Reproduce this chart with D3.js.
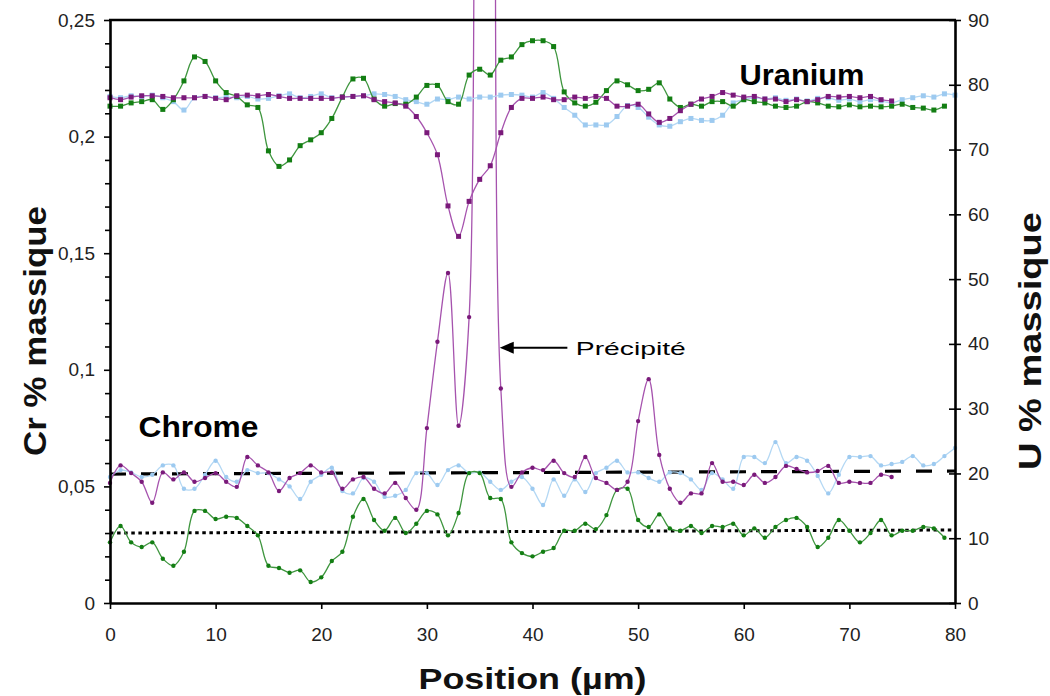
<!DOCTYPE html>
<html><head><meta charset="utf-8">
<script src="https://cdn.jsdelivr.net/npm/d3@7"></script>
<style>
html,body{margin:0;padding:0;background:#fff;}
svg{display:block;font-family:"Liberation Sans",Arial,sans-serif;}
</style></head>
<body>
<svg id="chart" width="1050" height="696"></svg>
<script>
// ---------- DATA ----------
const posAll = [0,1,2,3,4,5,6,7,8,9,10,11,12,13,14,15,16,17,18,19,20,21,22,23,24,25,26,27,28,29,30,31,32,33,34,35,36,37,38,39,40,41,42,43,44,45,46,47,48,49,50,51,52,53,54,55,56,57,58,59,60,61,62,63,64,65,66,67,68,69,70,71,72,73,74,75,76,77,78,79,80];

// Chrome (left axis, Cr % massique)
const crGreen = [0.026,0.033,0.026,0.024,0.026,0.019,0.016,0.022,0.0395,0.0395,
0.036,0.037,0.0365,0.033,0.029,0.016,0.015,0.013,0.014,0.009,
0.011,0.018,0.022,0.037,0.0446,0.0356,0.031,0.0365,0.030,0.034,
0.0395,0.038,0.029,0.0386,0.0557,0.0557,0.045,0.0446,0.026,0.0214,
0.020,0.022,0.0236,0.031,0.031,0.034,0.0317,0.0377,0.0485,0.049,
0.0356,0.0326,0.038,0.032,0.031,0.033,0.030,0.033,0.0326,0.034,
0.029,0.032,0.028,0.0326,0.0356,0.0365,0.0326,0.024,0.028,0.0356,
0.031,0.026,0.030,0.0356,0.029,0.031,0.031,0.0326,0.032,0.028];

const crPurple = [0.0515,0.059,0.0557,0.052,0.043,0.056,0.053,0.056,0.052,0.0536,
0.0557,0.052,0.0498,0.0626,0.059,0.056,0.048,0.0536,0.0557,0.059,
0.056,0.056,0.049,0.053,0.054,0.049,0.047,0.0515,0.045,0.040,
0.075,0.112,0.1415,0.076,0.1226,0.6,0.55,0.092,0.0498,0.056,
0.058,0.057,0.061,0.0557,0.054,0.0626,0.0536,0.0515,0.0485,0.052,
0.078,0.096,0.0635,0.049,0.043,0.047,0.047,0.060,0.052,0.052,
0.0506,0.055,0.0515,0.054,0.0588,0.0575,0.056,0.0566,0.0588,0.0515,
0.052,0.0515,0.0515,0.055,0.054];

const crBlue = [0.054,0.057,0.056,0.054,0.055,0.059,0.059,0.049,0.049,0.055,
0.061,0.054,0.052,0.057,0.0557,0.0557,0.053,0.050,0.0446,0.052,
0.055,0.058,0.048,0.047,0.0536,0.052,0.0455,0.046,0.0485,0.0557,
0.0557,0.0506,0.057,0.059,0.0557,0.056,0.052,0.0485,0.052,0.054,
0.049,0.042,0.053,0.046,0.053,0.0476,0.0557,0.058,0.061,0.056,
0.056,0.0536,0.052,0.056,0.0557,0.053,0.0485,0.0557,0.053,0.049,
0.0626,0.0626,0.060,0.069,0.060,0.0626,0.061,0.0545,0.047,0.055,
0.0626,0.0626,0.063,0.059,0.0596,0.0605,0.063,0.059,0.0596,0.063,
0.0665];

// Uranium (right axis, U % massique)
const uPurple = [78.0,77.7,78.1,78.3,78.3,78.2,78.0,78.0,78.0,78.2,
77.9,77.7,78.3,78.4,78.3,78.5,78.2,77.9,77.9,77.9,
77.9,77.9,78.1,78.2,78.3,77.7,77.4,77.2,76.7,75.1,
72.6,69.2,61.3,56.6,62.0,65.4,67.5,72.6,76.5,77.9,
77.9,78.1,77.7,77.7,78.1,77.9,78.2,77.9,76.7,76.7,
77.0,75.5,74.2,74.8,76.0,77.0,77.8,78.2,78.8,78.4,
78.1,78.2,77.8,77.8,77.4,77.7,77.4,77.7,78.2,78.1,
78.2,78.0,78.2,77.7,77.5];

const uGreen = [76.7,76.7,77.2,77.4,77.7,76.2,77.7,80.6,84.3,83.6,
80.6,78.8,78.2,76.9,76.5,69.8,67.4,68.4,70.6,71.5,
72.6,74.8,78.1,80.9,81.0,77.8,76.7,77.1,77.0,78.1,
79.9,79.9,77.4,77.0,81.5,82.4,81.5,83.8,84.3,86.2,
86.8,86.8,85.9,78.9,77.2,76.7,77.3,79.1,80.6,80.0,
79.1,79.3,80.3,77.8,76.5,77.0,76.7,77.4,77.4,76.7,
77.7,77.4,77.2,76.7,76.5,76.7,77.4,77.2,76.7,76.6,
76.9,76.6,76.7,76.6,76.7,77.0,76.5,76.4,76.1,76.7];

const uBlue = [78.2,78.0,78.3,78.2,78.4,78.0,77.4,76.1,78.0,78.2,
78.0,78.1,78.0,78.2,77.8,77.9,78.3,78.6,78.0,78.2,
78.6,78.0,78.1,78.2,78.3,78.6,78.5,78.2,77.7,77.4,
77.0,77.8,77.7,78.1,77.8,78.1,78.1,78.4,78.5,78.4,
78.1,78.8,77.9,76.5,75.3,73.8,73.8,73.8,75.1,76.8,
76.5,75.0,73.8,73.6,74.3,74.8,74.5,74.5,75.3,77.2,
77.7,78.0,77.8,78.0,77.6,77.8,77.5,77.9,78.0,77.6,
77.8,77.4,77.7,77.5,77.2,77.7,78.0,78.3,78.1,78.6,
78.4];

// reference lines (Cr): mean levels
const dashedLine = [[0,0.0553],[80,0.0566]];
const dottedLine = [[0,0.0300],[80,0.0313]];

const xTicks = [0,10,20,30,40,50,60,70,80];
const yLeftTicks = [0,0.05,0.1,0.15,0.2,0.25];
const yLeftMinor = [0.01,0.02,0.03,0.04,0.06,0.07,0.08,0.09,0.11,0.12,0.13,0.14,0.16,0.17,0.18,0.19,0.21,0.22,0.23,0.24];
const yRightTicks = [0,10,20,30,40,50,60,70,80,90];

// ---------- LAYOUT ----------
const L = 110, R = 955, T = 20, B = 603;
const svg = d3.select("#chart");
const xS = d3.scaleLinear().domain([0,80]).range([L,R]);
const yL = d3.scaleLinear().domain([0,0.25]).range([B,T]);
const yR = d3.scaleLinear().domain([0,90]).range([B,T]);

svg.append("defs").append("clipPath").attr("id","clip")
  .append("rect").attr("x",L-6).attr("y",-10).attr("width",R-L+12).attr("height",B+6+10);

const plot = svg.append("g").attr("clip-path","url(#clip)");

// reference lines
const lineXY = d3.line().x(d=>xS(d[0])).y(d=>yL(d[1]));
plot.append("path").attr("d",lineXY(dashedLine)).attr("fill","none")
  .attr("stroke","#000").attr("stroke-width",3.2).attr("stroke-dasharray","16,15");
plot.append("path").attr("d",lineXY(dottedLine)).attr("fill","none")
  .attr("stroke","#000").attr("stroke-width",3).attr("stroke-dasharray","3.5,3.6");

const curve = d3.curveCatmullRom.alpha(0.5);
function series(vals, yScale, lineColor, markColor, shape, size){
  const pts = vals.map((v,i)=>[posAll[i], v]);
  const g = plot.append("g");
  g.append("path").datum(pts)
    .attr("d", d3.line().curve(curve).x(d=>xS(d[0])).y(d=>yScale(d[1])))
    .attr("fill","none").attr("stroke",lineColor).attr("stroke-width",1.3);
  if(shape==="square"){
    g.selectAll("rect").data(pts).join("rect")
      .attr("x",d=>xS(d[0])-size/2).attr("y",d=>yScale(d[1])-size/2)
      .attr("width",size).attr("height",size)
      .attr("fill",markColor);
  } else {
    g.selectAll("circle").data(pts).join("circle")
      .attr("cx",d=>xS(d[0])).attr("cy",d=>yScale(d[1])).attr("r",size/2)
      .attr("fill",markColor);
  }
}

// Chrome series (circles)
series(crBlue, yL, "#b4d8f4", "#9dcaf0", "circle", 4.4);
series(crGreen, yL, "#3f963f", "#137e13", "circle", 4.4);
series(crPurple, yL, "#a653ae", "#7a1a7a", "circle", 4.4);
// Uranium series (squares)
series(uBlue, yR, "#b4d8f4", "#9dcaf0", "square", 5);
series(uGreen, yR, "#3f963f", "#137e13", "square", 5);
series(uPurple, yR, "#a653ae", "#7a1a7a", "square", 5);

// ---------- AXES ----------
const fmtL = d => String(+d.toFixed(2)).replace(".", ",");
const gL = svg.append("g").attr("transform",`translate(${L},0)`)
  .call(d3.axisLeft(yL).tickValues(yLeftTicks).tickFormat(fmtL).tickSizeInner(6).tickSizeOuter(0).tickPadding(9));
const gLm = svg.append("g").attr("transform",`translate(${L},0)`)
  .call(d3.axisLeft(yL).tickValues(yLeftMinor).tickFormat("").tickSizeInner(5).tickSizeOuter(0));
gLm.select(".domain").remove();

const gR = svg.append("g").attr("transform",`translate(${R},0)`)
  .call(d3.axisRight(yR).tickValues(yRightTicks).tickSizeInner(6).tickSizeOuter(0).tickPadding(7));
gR.selectAll(".tick line").attr("x1",-6);

const gB = svg.append("g").attr("transform",`translate(0,${B})`)
  .call(d3.axisBottom(xS).tickValues(xTicks).tickSizeInner(6).tickSizeOuter(0).tickPadding(19));

[gL,gLm,gR,gB].forEach(g=>{
  g.selectAll(".domain").attr("stroke","#000").attr("stroke-width",2.6);
  g.selectAll(".tick line").attr("stroke","#000").attr("stroke-width",1.6);
  g.selectAll(".tick text").attr("fill","#222").style("font-size","19px")
    .style("font-family","'Liberation Sans',Arial,sans-serif");
});
// top frame
svg.append("line").attr("x1",L-1).attr("x2",R+1).attr("y1",T).attr("y2",T)
  .attr("stroke","#000").attr("stroke-width",2.6);

// ---------- TITLES ----------
svg.append("text").attr("x",(L+R)/2).attr("y",689).attr("text-anchor","middle")
  .attr("font-weight","bold").attr("font-size",29).attr("fill","#111")
  .attr("textLength",228).attr("lengthAdjust","spacingAndGlyphs")
  .text("Position (µm)");
svg.append("text").attr("transform",`translate(46,${331}) rotate(-90)`).attr("text-anchor","middle")
  .attr("font-weight","bold").attr("font-size",31).attr("fill","#111")
  .attr("textLength",250).attr("lengthAdjust","spacingAndGlyphs")
  .text("Cr % massique");
svg.append("text").attr("transform",`translate(1041,${341}) rotate(-90)`).attr("text-anchor","middle")
  .attr("font-weight","bold").attr("font-size",31).attr("fill","#111")
  .attr("textLength",258).attr("lengthAdjust","spacingAndGlyphs")
  .text("U % massique");

// ---------- ANNOTATIONS ----------
svg.append("text").attr("x",xS(59.6)).attr("y",85).attr("font-weight","bold")
  .attr("font-size",29).attr("fill","#000").attr("textLength",125).attr("lengthAdjust","spacingAndGlyphs")
  .text("Uranium");
svg.append("text").attr("x",xS(2.7)).attr("y",437).attr("font-weight","bold")
  .attr("font-size",29).attr("fill","#000").attr("textLength",120).attr("lengthAdjust","spacingAndGlyphs")
  .text("Chrome");

const ay = yL(0.1095), ax0 = xS(36.9), ax1 = xS(43.3);
svg.append("line").attr("x1",ax0+10).attr("x2",ax1).attr("y1",ay).attr("y2",ay)
  .attr("stroke","#000").attr("stroke-width",2);
svg.append("path").attr("d",`M${ax0},${ay} L${ax0+14},${ay-6} L${ax0+14},${ay+6} Z`).attr("fill","#000");
svg.append("text").attr("x",xS(44.1)).attr("y",ay+7).attr("font-size",19).attr("fill","#000")
  .attr("textLength",110).attr("lengthAdjust","spacingAndGlyphs")
  .text("Précipité");
</script>
</body></html>
